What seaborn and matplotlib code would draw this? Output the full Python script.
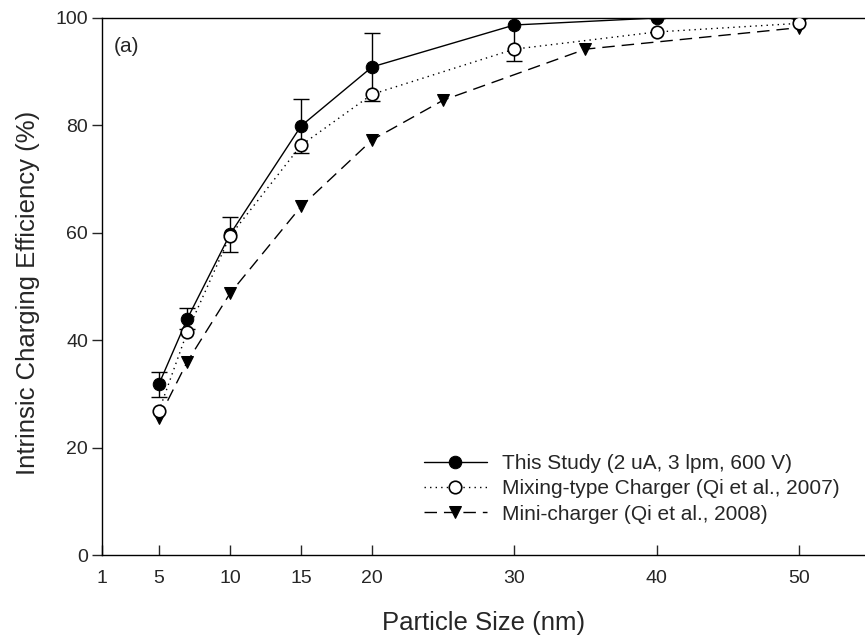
import numpy as np
import pandas as pd
import matplotlib
matplotlib.use("Agg")
import matplotlib.pyplot as plt
import seaborn as sns

# data
study_x = [5, 7, 10, 15, 20, 30, 40, 50]
study_y = [31.8, 44.0, 59.7, 79.9, 90.9, 98.7, 100.0, 100.0]
study_err = [2.3, 2.0, 3.3, 5.0, 6.3, 6.7, 0.0, 0.0]

mixing_x = [5, 7, 10, 15, 20, 30, 40, 50]
mixing_y = [26.8, 41.6, 59.4, 76.3, 85.8, 94.2, 97.4, 99.0]

mini_x = [5, 7, 10, 15, 20, 25, 35, 50]
mini_y = [25.5, 36.0, 48.7, 64.9, 77.3, 84.7, 94.2, 98.2]

labels = ["This Study (2 uA, 3 lpm, 600 V)",
          "Mixing-type Charger (Qi et al., 2007)",
          "Mini-charger (Qi et al., 2008)"]
x_ticks = [1, 5, 10, 15, 20, 30, 40, 50]
y_ticks = [0, 20, 40, 60, 80, 100]

sns.set_style("ticks")
plt.rcParams['font.family'] = ['Liberation Sans', 'DejaVu Sans']

fig = plt.figure(figsize=(8.65, 6.41), dpi=100)
ax = fig.add_axes([102 / 865, 1 - 555 / 641, 1 - 102 / 865, (555 - 18) / 641])

# error bars only on this study's points
ax.errorbar(study_x, study_y, yerr=study_err, fmt='none', ecolor='black',
            elinewidth=1, capsize=6, capthick=1, zorder=2)

sns.lineplot(x=study_x, y=study_y, ax=ax, color='black', linewidth=1,
             linestyle='-', marker='o', markersize=9, markerfacecolor='black',
             markeredgecolor='black', label=labels[0], zorder=3)
sns.lineplot(x=mixing_x, y=mixing_y, ax=ax, color='black', linewidth=1,
             linestyle=(0, (1, 3)), marker='o', markersize=9, markerfacecolor='white',
             markeredgecolor='black', markeredgewidth=1.2, label=labels[1], zorder=4)
sns.lineplot(x=mini_x, y=mini_y, ax=ax, color='black', linewidth=1,
             linestyle=(0, (9, 5)), marker='v', markersize=9, markerfacecolor='black',
             markeredgecolor='black', label=labels[2], zorder=3)

ax.set_xlim(1, 1 + (865 - 102) / 14.22)
ax.set_ylim(0, 100)
ax.set_xticks(x_ticks)
ax.set_yticks(y_ticks)
ax.tick_params(axis='x', direction='in', length=7, width=1, labelsize=14, pad=11)
ax.tick_params(axis='y', direction='out', length=7, width=1, labelsize=14, pad=3)
for side in ['left', 'bottom', 'top']:
    ax.spines[side].set_linewidth(1)
    ax.spines[side].set_color('black')
ax.spines['right'].set_visible(False)

ax.set_xlabel('Particle Size (nm)', fontsize=18.5, labelpad=17)
ax.set_ylabel('Intrinsic Charging Efficiency (%)', fontsize=18.5)
ax.yaxis.set_label_coords(40 / 865, 1 - 293 / 641, transform=fig.transFigure)
fig.text(114 / 865, 1 - 46 / 641, '(a)', fontsize=15, va='center', ha='left')

leg = ax.legend(loc='center left', bbox_to_anchor=(424 / 865, 1 - 489 / 641),
                bbox_transform=fig.transFigure, frameon=False, fontsize=15,
                handlelength=3.0, handletextpad=0.75, labelspacing=0.3,
                borderaxespad=0, borderpad=0)

fig.savefig('out.png', dpi=100)
